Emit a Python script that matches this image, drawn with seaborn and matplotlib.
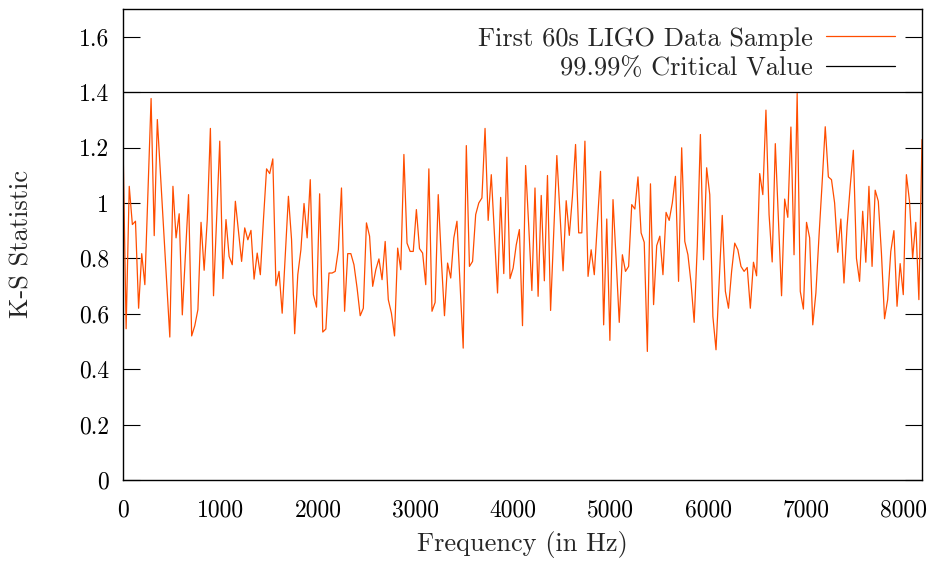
import numpy as np
import pandas as pd
import matplotlib
matplotlib.use("Agg")
import matplotlib.pyplot as plt
import seaborn as sns

# ---------------- data ----------------
freq_step_hz = 32
ks_values = [
    1.220, 0.546, 1.060, 0.922, 0.934, 0.620, 0.817, 0.705, 1.041, 1.377,
    0.882, 1.301, 1.105, 0.908, 0.712, 0.516, 1.060, 0.874, 0.961, 0.596,
    0.813, 1.030, 0.520, 0.557, 0.615, 0.930, 0.757, 0.940, 1.269, 0.665,
    0.940, 1.223, 0.727, 0.940, 0.807, 0.777, 1.006, 0.898, 0.789, 0.910,
    0.867, 0.901, 0.725, 0.819, 0.741, 0.940, 1.123, 1.106, 1.159, 0.701,
    0.753, 0.602, 0.813, 1.024, 0.868, 0.528, 0.741, 0.831, 0.998, 0.874,
    1.084, 0.669, 0.624, 1.033, 0.534, 0.545, 0.747, 0.747, 0.753, 0.831,
    1.054, 0.609, 0.817, 0.817, 0.777, 0.693, 0.593, 0.620, 0.928, 0.880,
    0.699, 0.759, 0.798, 0.723, 0.861, 0.651, 0.602, 0.520, 0.837, 0.759,
    1.175, 0.855, 0.825, 0.825, 0.976, 0.835, 0.819, 0.705, 1.123, 0.609,
    0.641, 1.030, 0.795, 0.593, 0.783, 0.729, 0.874, 0.934, 0.702, 0.476,
    1.207, 0.771, 0.789, 0.958, 1.000, 1.018, 1.269, 0.937, 1.102, 0.892,
    0.675, 1.020, 0.745, 1.165, 0.727, 0.765, 0.849, 0.904, 0.557, 1.135,
    0.916, 0.684, 1.054, 0.663, 1.027, 0.719, 1.099, 0.612, 0.892, 1.171,
    0.964, 0.755, 1.008, 0.883, 1.024, 1.211, 0.892, 0.892, 1.223, 0.735,
    0.831, 0.741, 0.928, 1.114, 0.560, 0.942, 0.504, 1.012, 0.795, 0.569,
    0.813, 0.753, 0.771, 0.994, 0.978, 1.094, 0.892, 0.858, 0.464, 1.069,
    0.633, 0.846, 0.880, 0.741, 0.966, 0.937, 1.000, 1.096, 0.717, 1.199,
    0.861, 0.813, 0.711, 0.569, 0.843, 1.247, 0.795, 1.127, 1.030, 0.590,
    0.470, 0.711, 0.955, 0.681, 0.620, 0.753, 0.855, 0.831, 0.771, 0.753,
    0.767, 0.620, 0.786, 0.737, 1.106, 1.030, 1.335, 0.958, 0.787, 1.214,
    0.940, 0.665, 1.014, 0.948, 1.274, 0.813, 1.395, 0.681, 0.617, 0.930,
    0.874, 0.560, 0.675, 0.880, 1.072, 1.275, 1.094, 1.084, 1.000, 0.822,
    0.942, 0.711, 0.916, 1.060, 1.190, 0.800, 0.717, 0.970, 0.786, 1.060,
    0.771, 1.046, 1.006, 0.819, 0.582, 0.651, 0.825, 0.900, 0.627, 0.781,
    0.669, 1.102, 1.006, 0.801, 0.930, 0.651, 1.229,
]
critical_value = 1.40
x_ticks = [0, 1000, 2000, 3000, 4000, 5000, 6000, 7000, 8000]
y_ticks = [0.0, 0.2, 0.4, 0.6, 0.8, 1.0, 1.2, 1.4, 1.6]
y_tick_labels = ["0", "0.2", "0.4", "0.6", "0.8", "1", "1.2", "1.4", "1.6"]
series_label = "First 60s LIGO Data Sample"
critical_label = "99.99% Critical Value"
x_label = "Frequency (in Hz)"
y_label = "K-S Statistic"

# ---------------- style ----------------
sns.set_theme(style="white")
plt.rcParams["font.family"] = ["cmr10", "DejaVu Serif"]
plt.rcParams["mathtext.fontset"] = "cm"
plt.rcParams["axes.unicode_minus"] = False
plt.rcParams["axes.formatter.use_mathtext"] = True

TICK_FS = 17
TEXT_FS = 19
W, H = 940, 562
L, R, T, B = 123, 922, 9, 480
fig = plt.figure(figsize=(W / 100, H / 100), dpi=100)
ax = fig.add_axes([L / W, 1 - B / H, (R - L) / W, (B - T) / H])

df = pd.DataFrame({
    "freq": np.arange(len(ks_values)) * freq_step_hz,
    "ks": ks_values,
})
sns.lineplot(data=df, x="freq", y="ks", ax=ax, color="#ff4d00", lw=0.9,
             label=series_label)
ax.axhline(critical_value, color="black", lw=0.9, label=critical_label)

ax.set_xlim(0, df["freq"].max())
ax.set_ylim(0, 1.7)
ax.set_xticks(x_ticks)
ax.set_xticklabels([str(t) for t in x_ticks])
ax.set_yticks(y_ticks)
ax.set_yticklabels(y_tick_labels)
ax.tick_params(axis="y", direction="in", length=12, width=0.8, left=True,
               right=True, labelright=False, labelsize=TICK_FS,
               colors="black", pad=10)
ax.tick_params(axis="x", direction="in", length=0, width=0.8, top=False,
               bottom=True, labelsize=TICK_FS, colors="black", pad=14)
for s in ax.spines.values():
    s.set_color("black")
    s.set_linewidth(1.0)

ax.set_xlabel(x_label, fontsize=TEXT_FS)
ax.xaxis.set_label_coords(0.5, (B - 545) / (B - T))
ax.xaxis.label.set_verticalalignment("center")
ax.set_ylabel(y_label, fontsize=TEXT_FS)
ax.yaxis.set_label_coords((22 - L) / (R - L), 0.5)
ax.yaxis.label.set_verticalalignment("center")
ax.yaxis.label.set_horizontalalignment("center")

leg = ax.legend(loc="upper right", frameon=False, markerfirst=False,
                fontsize=TEXT_FS, handlelength=2.6, handletextpad=0.5,
                labelspacing=0.22, borderaxespad=0, borderpad=0,
                bbox_to_anchor=((895 - L) / (R - L), (B - 27) / (B - T)))
for t in leg.get_texts():
    t.set_ha("right")

fig.savefig("out.png", dpi=100)
